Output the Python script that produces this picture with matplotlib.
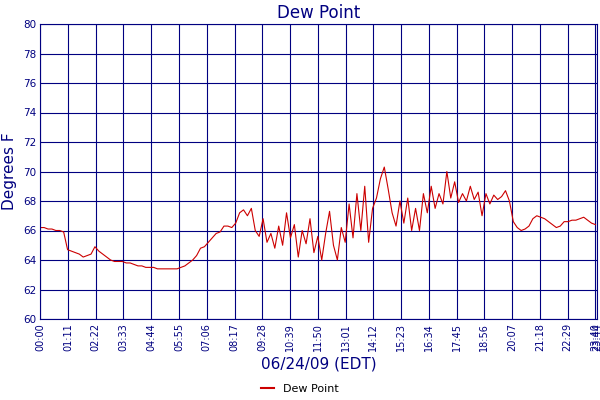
import matplotlib
matplotlib.use("Agg")
import matplotlib.pyplot as plt
from matplotlib.lines import Line2D

minutes = list(range(0, 1430, 10))
dew = [
 66.2,66.2,66.1,66.1,66.0,66.0,
 65.9,64.7,64.6,64.5,64.4,64.2,
 64.3,64.4,64.9,64.6,64.4,64.2,
 64.0,63.9,63.9,63.9,63.8,63.8,
 63.7,63.6,63.6,63.5,63.5,63.5,
 63.4,63.4,63.4,63.4,63.4,63.4,
 63.5,63.6,63.8,64.0,64.3,64.8,
 64.9,65.2,65.5,65.8,65.9,66.3,
 66.3,66.2,66.5,67.2,67.4,67.0,
 67.5,66.0,65.6,66.8,65.2,65.8,
 64.8,66.3,65.0,67.2,65.5,66.4,
 64.2,66.0,65.1,66.8,64.5,65.6,
 64.0,65.8,67.3,65.0,64.0,66.2,
 65.2,67.8,65.5,68.5,66.0,69.0,
 65.2,67.5,68.2,69.5,70.3,68.8,
 67.2,66.3,68.0,66.5,68.2,66.0,
 67.5,66.0,68.5,67.2,69.0,67.5,
 68.5,67.8,70.0,68.2,69.3,67.9,
 68.5,68.0,69.0,68.1,68.6,67.0,
 68.5,67.8,68.4,68.1,68.3,68.7,
 68.0,66.6,66.2,66.0,66.1,66.3,
 66.8,67.0,66.9,66.8,66.6,66.4,
 66.2,66.3,66.6,66.6,66.7,66.7,
 66.8,66.9,66.7,66.5,66.4,
]
tick_min = [i*71 for i in range(21)] + [1424]
tick_labels = ["%02d:%02d" % (m//60, m%60) for m in tick_min]
yticks = list(range(60, 81, 2))

navy = "#000080"
fig = plt.figure(figsize=(6, 4), dpi=100)
ax = fig.add_axes([0.067, 0.2025, 0.928, 0.7375])
ax.plot(minutes, dew, color="#cc0000", lw=0.8)
ax.set_xlim(0, 1424)
ax.set_ylim(60, 80)
ax.set_xticks(tick_min)
ax.set_xticklabels(tick_labels, rotation=90, fontsize=7, color=navy)
ax.set_yticks(yticks)
ax.set_yticklabels([str(v) for v in yticks], fontsize=7.5, color=navy)
ax.grid(True, color=navy, lw=0.8)
ax.tick_params(length=0, pad=3)
for s in ax.spines.values():
    s.set_color(navy)
ax.set_title("Dew Point", color=navy, fontsize=12, pad=4)
ax.set_ylabel("Degrees F", color=navy, fontsize=11)
ax.set_xlabel("06/24/09 (EDT)", color=navy, fontsize=11, labelpad=4)
fig.legend([Line2D([0], [0], color="#cc0000", lw=1.5)], ["Dew Point"],
           loc="lower center", bbox_to_anchor=(0.5, -0.01), frameon=False,
           fontsize=8, handlelength=1.2)
fig.savefig("out.png")
